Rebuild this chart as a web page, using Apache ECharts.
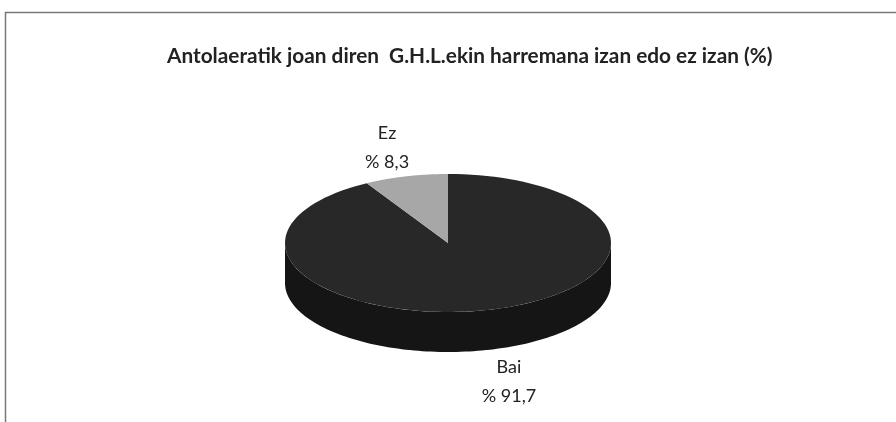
<!DOCTYPE html>
<html><head><meta charset="utf-8">
<script src="https://cdn.jsdelivr.net/npm/echarts@6/dist/echarts.min.js"></script>
<style>html,body{margin:0;padding:0;background:#fff}#c{width:896px;height:422px}</style>
</head><body><div id="c"></div>
<script>
const titleText = 'Antolaeratik joan diren  G.H.L.ekin harremana izan edo ez izan (%)';
const categories = ['Bai', 'Ez'];
const values = [91.7, 8.3];

const chart = echarts.init(document.getElementById('c'), null, {renderer: 'canvas'});
const total = values.reduce((a, b) => a + b, 0);
const topColors = ['#282828', '#a7a7a7'];
const sideColors = ['#151515', '#6f6f6f'];

function fmt(v) { return '% ' + String(v).replace('.', ','); }

function renderItem(params, api) {
  const i = params.dataIndex;
  const v = api.value(0);
  const W = api.getWidth();
  const cx = W * 0.5, cy = 243, rx = 163, ry = 69, d = 40;
  let before = 0;
  for (let k = 0; k < i; k++) before += values[k];
  const a = -Math.PI / 2 + 2 * Math.PI * before / total;
  const b = a + 2 * Math.PI * v / total;
  const pt = (t, dy) => [cx + rx * Math.cos(t), cy + ry * Math.sin(t) + (dy || 0)];
  const arc = (s, e, dy) => { const n = 120, out = []; for (let j = 0; j <= n; j++) out.push(pt(s + (e - s) * j / n, dy)); return out; };
  const children = [];
  [[0, Math.PI], [2 * Math.PI, 3 * Math.PI], [-2 * Math.PI, -Math.PI]].forEach(([f0, f1]) => {
    const s = Math.max(a, f0), e = Math.min(b, f1);
    if (e > s) {
      const pts = arc(s, e, 0).concat(arc(s, e, d).reverse());
      children.push({type: 'polygon', z2: 1, shape: {points: pts}, style: {fill: sideColors[i], stroke: null}});
    }
  });
  children.push({type: 'polygon', z2: 5, shape: {points: [[cx, cy]].concat(arc(a, b, 0))}, style: {fill: topColors[i], stroke: null}});
  const m = (a + b) / 2;
  const sm = Math.sin(m);
  const lx = cx + rx * 1.45 * Math.cos(m);
  const ly = cy + ry * (sm > 0 ? 1.05 : 0.99) * sm + (sm > 0 ? d : 0);
  children.push({
    type: 'text', z2: 10,
    style: {
      x: lx, y: ly,
      text: categories[i] + '\n' + fmt(v),
      font: '18px Lato, sans-serif',
      fill: '#222', align: 'center',
      verticalAlign: sm > 0 ? 'top' : 'bottom',
      lineHeight: 29
    }
  });
  return {type: 'group', children: children};
}

chart.setOption({
  backgroundColor: '#fff',
  animation: false,
  title: {
    text: titleText, left: 162, top: 41,
    textStyle: {fontFamily: 'Lato', fontWeight: 'bold', fontSize: 20.8, color: '#222'}
  },
  graphic: [
    {type: 'polyline', shape: {points: [[5.5, 422], [5.5, 12.5], [896, 12.5]]}, style: {stroke: '#777', lineWidth: 1.5, fill: null}}
  ],
  series: [{
    type: 'custom',
    coordinateSystem: 'none',
    renderItem: renderItem,
    data: values.map((v, i) => ({name: categories[i], value: [v]}))
  }]
});
</script></body></html>
